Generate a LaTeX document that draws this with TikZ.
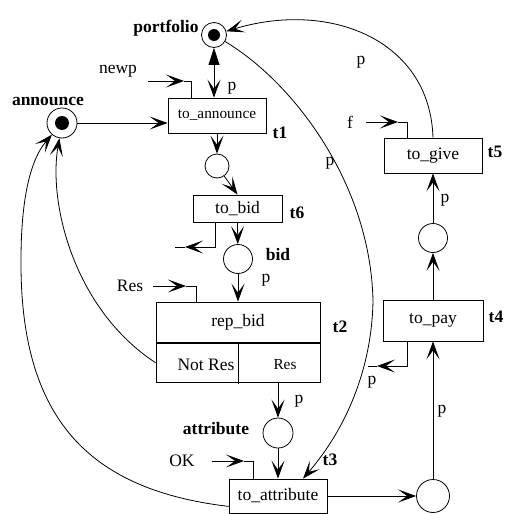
\documentclass[tikz,border=0pt]{standalone}
\usepackage{fontspec}
\setmainfont{Liberation Serif}
\usetikzlibrary{arrows.meta,calc}
\begin{document}
\begin{tikzpicture}[x=1pt,y=-1pt,
  line width=0.8pt,
  arr/.style={-{Stealth[length=18pt,width=13pt,inset=9pt]}},
  trans/.style={draw,rectangle,inner sep=0pt,font=\fontsize{17.5}{20}\selectfont},
  place/.style={draw,circle,inner sep=0pt},
  lbl/.style={inner sep=0pt,font=\fontsize{17.5}{20}\selectfont},
  blbl/.style={inner sep=0pt,font=\fontsize{17.5}{20}\selectfont\bfseries},
  token/.style={fill=black}]
\useasboundingbox (0,0) rectangle (505,514);

% places
\node[place,minimum size=25pt] (portfolio) at (214,35) {};
\fill[token] (portfolio) circle[radius=6pt];
\node[place,minimum size=30pt] (announce) at (62,123) {};
\fill[token] (announce) circle[radius=7pt];
\node[place,minimum size=24pt] (c1) at (217,166) {};
\node[place,minimum size=29pt] (bid) at (238,259) {};
\node[place,minimum size=30pt] (attr) at (278,433) {};
\node[place,minimum size=33pt] (cb) at (433,496) {};
\node[place,minimum size=29pt] (cp) at (433,238) {};

% transitions
\node[trans,minimum width=98pt,minimum height=35pt,font=\fontsize{15.3}{18}\selectfont] (toann) at (217,115.5) {to\_announce};
\node[trans,minimum width=89pt,minimum height=27pt] (tobid) at (237.5,208.5) {to\_bid};
\node[trans,minimum width=164pt,minimum height=40pt] (repbid) at (238,322) {rep\_bid};
\node[trans,minimum width=164pt,minimum height=38.5pt] (lower) at (238,362.75) {};
\node[trans,minimum width=98pt,minimum height=34pt] (toatt) at (278,496) {to\_attribute};
\node[trans,minimum width=100pt,minimum height=41pt] (topay) at (433,320.5) {to\_pay};
\node[trans,minimum width=98pt,minimum height=35pt] (togive) at (433,155.5) {to\_give};
\draw (lower.north) -- ($(lower.south)+(0,2)$);
\node[lbl] (notres) at (206,365) {Not Res};
\node[lbl,font=\fontsize{15.3}{18}\selectfont] (resin) at (285,365) {Res};

% labels
\node[blbl] (lportfolio) at (166,28) {portfolio};
\node[blbl] (lannounce) at (48,101) {announce};
\node[lbl] (lnewp) at (118,71) {newp};
\node[lbl] (p1) at (232,88) {p};
\node[blbl] (t1) at (280,133) {t1};
\node[blbl] (t6) at (297,213) {t6};
\node[blbl] (lbid) at (278,255) {bid};
\node[lbl] (p2) at (266,280) {p};
\node[lbl] (lres) at (130,286) {Res};
\node[blbl] (t2) at (340,327) {t2};
\node[lbl] (p3) at (299,401) {p};
\node[blbl] (lattr) at (216,429) {attribute};
\node[lbl] (lok) at (182,461) {OK};
\node[blbl] (t3) at (330,460) {t3};
\node[lbl] (p4) at (442,411) {p};
\node[lbl] (p5) at (372,382) {p};
\node[blbl] (t4) at (496,317) {t4};
\node[lbl] (p6) at (445,200) {p};
\node[blbl] (t5) at (495,152) {t5};
\node[lbl] (lf) at (350,122) {f};
\node[lbl] (p7) at (361,62) {p};
\node[lbl] (p8) at (330,163) {p};

% arcs
\draw[{Stealth[length=17pt,width=11pt,inset=0pt]}-{Stealth[length=18pt,width=13pt,inset=9pt]}]
  (portfolio) -- (portfolio |- toann.north);
\draw[arr] (announce) -- (announce -| toann.west);
\draw[arr] (toann.south) -- (c1);
\draw[arr] (c1) -- (tobid.north);
\draw[arr] (tobid.south) -- (bid);
\draw[arr] (bid) -- (repbid.north);
\draw[arr] (attr |- lower.south) -- (attr);
\draw[arr] (attr) -- (toatt.north);
\draw[arr] (toatt) -- (cb);
\draw[arr] (cb) -- (topay.south);
\draw[arr] (topay.north) -- (cp);
\draw[arr] (cp) -- (togive.south);

% side input/output arcs
\coordinate (newpS) at (148,81);
\coordinate (newpT) at (184,81);
\draw[arr] (newpS) -- (newpT);
\draw (newpT) -| ($(toann.north west)+(24,0)$);

\coordinate (resS) at (153,286);
\coordinate (resT) at (186,286);
\draw[arr] (resS) -- (resT);
\draw (resT) -| ($(repbid.north west)+(41,0)$);

\coordinate (okS) at (212,461);
\coordinate (okT) at (244,461);
\draw[arr] (okS) -- (okT);
\draw (okT) -| ($(toatt.north west)+(25,0)$);

\coordinate (fS) at (366,122);
\coordinate (fT) at (398,122);
\draw[arr] (fS) -- (fT);
\draw (fT) -| ($(togive.north west)+(24,0)$);

\coordinate (bidO) at (185,247);
\coordinate (bidE) at (175,247);
\draw[arr] ($(tobid.south west)+(23,0)$) |- (bidO);
\draw (bidO) -- (bidE);

\coordinate (payO) at (377,366);
\coordinate (payE) at (368,366);
\draw[arr] ($(topay.south west)+(25,0)$) |- (payO);
\draw (payO) -- (payE);

% long curves
\draw[arr] (togive.north) .. controls (430,40) and (330,0) .. (portfolio);
\draw (portfolio) .. controls (290,80) and (370,180) .. (373,300) coordinate (bigmid);
\draw[arr] (bigmid) .. controls (372,370) and (345,430) .. ($(toatt.north)+(25,0)$);
\draw[arr] (lower.west) .. controls (75,310) and (48,205) .. (announce);
\draw ($(toatt.south west)+(0,-7)$) .. controls (90,490) and (20,420) .. (21,260) coordinate (outmid);
\draw[arr] (outmid) .. controls (21,200) and (30,160) .. (announce);
\end{tikzpicture}
\end{document}
